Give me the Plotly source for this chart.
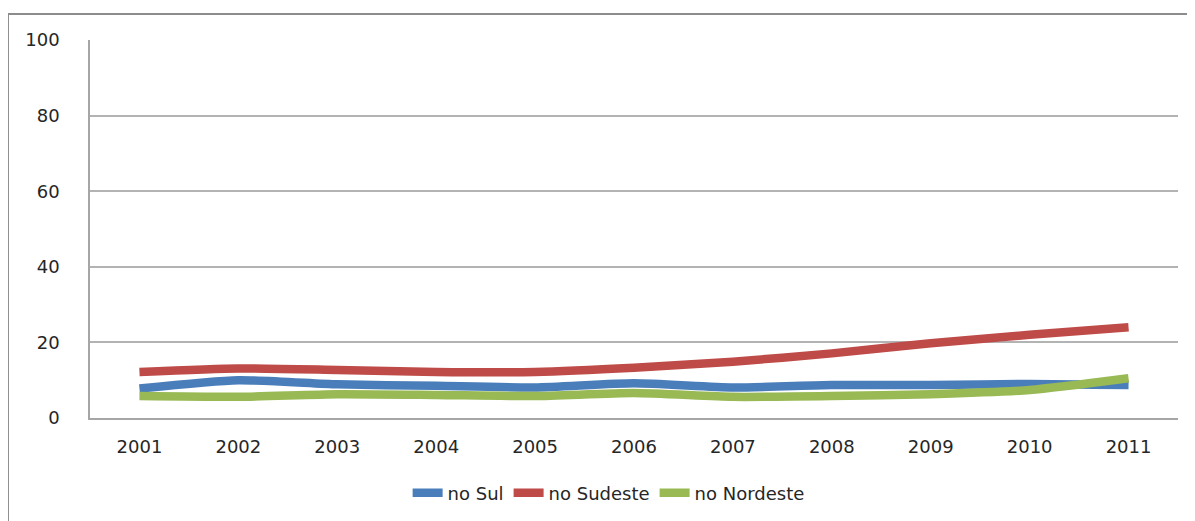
import plotly.graph_objects as go

years = ["2001", "2002", "2003", "2004", "2005", "2006", "2007", "2008", "2009", "2010", "2011"]
sul = [7.8, 10.0, 8.9, 8.5, 8.1, 9.2, 8.1, 8.7, 8.7, 9.0, 8.7]
sudeste = [12.2, 13.1, 12.7, 12.2, 12.2, 13.3, 14.9, 17.1, 19.8, 22.0, 24.0]
nordeste = [5.8, 5.6, 6.3, 6.1, 5.8, 6.6, 5.6, 5.8, 6.3, 7.4, 10.5]

series = [
    ("no Sul", sul, "#4a7ebb"),
    ("no Sudeste", sudeste, "#be4b48"),
    ("no Nordeste", nordeste, "#98b954"),
]

FONT = "DejaVu Sans"

fig = go.Figure()
for name, values, color in series:
    fig.add_trace(go.Scatter(
        x=years, y=values, name=name, mode="lines",
        line=dict(color=color, width=8.5, shape="spline", smoothing=0.6),
    ))

# page has an 8px body margin: figure is made 8px smaller so it fits the window
fig.update_layout(
    width=1187, height=513,
    paper_bgcolor="white", plot_bgcolor="white",
    margin=dict(l=82, r=17, t=32, b=103, autoexpand=False),
    font=dict(family=FONT, size=18, color="#262626"),
    legend=dict(
        orientation="h", x=0.506, xref="container", xanchor="center",
        y=0.0546, yref="container", yanchor="middle",
        font=dict(size=18), tracegroupgap=0,
    ),
    shapes=[dict(
        type="rect", xref="paper", yref="paper",
        x0=-0.0754, x1=1.2, y0=-0.5, y1=1.0688,
        line=dict(color="#8c8c8c", width=2), fillcolor="rgba(0,0,0,0)", layer="below",
    )],
)
fig.update_xaxes(
    type="category", showgrid=False, showline=True, linecolor="#a6a6a6", linewidth=1.5,
    ticks="", tickfont=dict(size=18), range=[-0.5, 10.5], ticklabelstandoff=12,
)
fig.update_yaxes(
    range=[0, 100], dtick=20, showgrid=True, gridcolor="#b3b3b3", gridwidth=1.5,
    showline=True, linecolor="#a6a6a6", linewidth=1.5, mirror=False,
    zeroline=False, ticks="", ticklabelstandoff=25, tickfont=dict(size=18),
)

fig.write_html("out.html")
